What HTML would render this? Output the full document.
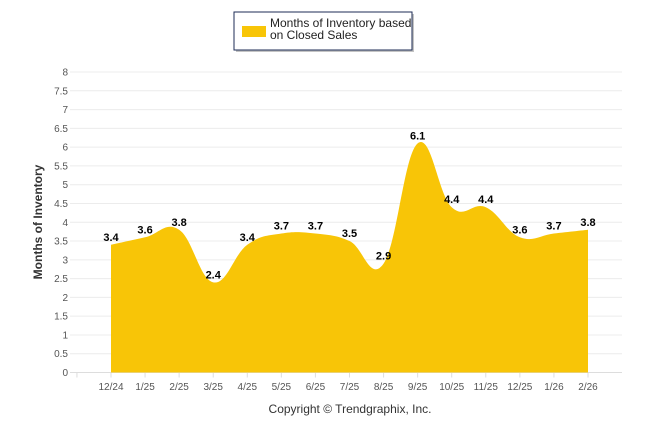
<!DOCTYPE html>
<html><head><meta charset="utf-8"><style>
body{margin:0;background:#fff;font-family:"Liberation Sans",sans-serif}
svg{display:block}
</style></head><body>
<svg width="646" height="434">
<g id="grid"></g>
<path id="area" fill="#F8C507" stroke="none"/>
<g id="labels"></g>
<g id="xaxis"></g>
<text transform="translate(42,222) rotate(-90)" text-anchor="middle" font-size="12" font-weight="bold" fill="#333">Months of Inventory</text>
<g>
<rect x="236" y="14" width="178" height="38" fill="#555" opacity="0.35"/>
<rect x="234" y="12" width="178" height="38" fill="#fff" stroke="#1d2b55" stroke-width="1"/>
<rect x="242" y="26" width="24" height="11" fill="#F8C507"/>
<text x="270" y="27" font-size="12" fill="#222">Months of Inventory based</text>
<text x="270" y="39" font-size="12" fill="#222">on Closed Sales</text>
</g>
<text x="350" y="413" text-anchor="middle" font-size="12" fill="#333">Copyright © Trendgraphix, Inc.</text>
</svg>
<script>
const categories=["12/24","1/25","2/25","3/25","4/25","5/25","6/25","7/25","8/25","9/25","10/25","11/25","12/25","1/26","2/26"];
const values=[3.4,3.6,3.8,2.4,3.4,3.7,3.7,3.5,2.9,6.1,4.4,4.4,3.6,3.7,3.8];
const yTicks=[0,0.5,1,1.5,2,2.5,3,3.5,4,4.5,5,5.5,6,6.5,7,7.5,8];
const ns="http://www.w3.org/2000/svg";
const x0=111,dx=(588-111)/14,yB=372.5,yT=72,left=70,right=622;
const xs=i=>x0+dx*i, ys=v=>yB-(v/8)*(yB-yT);
const grid=document.getElementById('grid');
yTicks.forEach(t=>{
 const l=document.createElementNS(ns,'line');
 
 
 l.setAttribute('x1',left);l.setAttribute('x2',right);l.setAttribute('y1',ys(t));l.setAttribute('y2',ys(t));
 l.setAttribute('stroke',t===0?'#ddd':'#ececec');grid.appendChild(l);
 const tx=document.createElementNS(ns,'text');
 
 
 tx.setAttribute('x',left-2);tx.setAttribute('y',ys(t)+3.5);tx.setAttribute('text-anchor','end');
 tx.setAttribute('font-size','10');tx.setAttribute('fill','#555');tx.textContent=t;grid.appendChild(tx);
});
const xa=document.getElementById('xaxis');
for(let i=-1;i<categories.length;i++){
 const l=document.createElementNS(ns,'line');
 
 
 l.setAttribute('x1',xs(i));l.setAttribute('x2',xs(i));l.setAttribute('y1',yB);l.setAttribute('y2',yB+5);
 l.setAttribute('stroke','#ddd');xa.appendChild(l);
}
categories.forEach((c,i)=>{
 const t=document.createElementNS(ns,'text');
 
 
 t.setAttribute('x',xs(i));t.setAttribute('y',390);t.setAttribute('text-anchor','middle');
 t.setAttribute('font-size','10');t.setAttribute('fill','#555');t.textContent=c;xa.appendChild(t);
});
// Highcharts-like spline
const pts=values.map((v,i)=>[xs(i),ys(v)]);
let d=`M${pts[0][0]},${yB} L${pts[0][0]},${pts[0][1]}`;
const sm=1.5,den=sm+1;
function ctrl(i){
 const p=pts[i],a=pts[i-1],b=pts[i+1];
 if(!a||!b)return [p,p];
 let lx=(sm*p[0]+a[0])/den,ly=(sm*p[1]+a[1])/den,rx=(sm*p[0]+b[0])/den,ry=(sm*p[1]+b[1])/den;
 let c=0;
 if(rx!==lx)c=(ry-ly)/(rx-lx);
 const cy=(ly*(rx-p[0])+ry*(p[0]-lx))/(rx-lx)||p[1];
 ly+=p[1]-cy;ry+=p[1]-cy;
 return [[lx,ly],[rx,ry]];
}
for(let i=1;i<pts.length;i++){
 const c1=ctrl(i-1)[1],c2=ctrl(i)[0];
 d+=` C${c1[0]},${c1[1]} ${c2[0]},${c2[1]} ${pts[i][0]},${pts[i][1]}`;
}
d+=` L${pts[pts.length-1][0]},${yB} Z`;
document.getElementById('area').setAttribute('d',d);
const lb=document.getElementById('labels');
values.forEach((v,i)=>{
 const t=document.createElementNS(ns,'text');
 
 
 t.setAttribute('x',xs(i));t.setAttribute('y',ys(v)-4);t.setAttribute('text-anchor','middle');
 t.setAttribute('font-size','11');t.setAttribute('font-weight','bold');t.setAttribute('fill','#000');
 t.textContent=v.toFixed(1);lb.appendChild(t);
});
</script>
</body></html>
